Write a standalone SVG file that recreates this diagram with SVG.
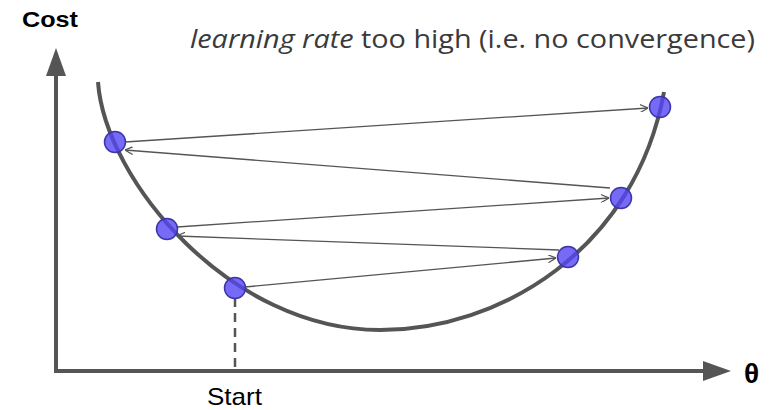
<svg xmlns="http://www.w3.org/2000/svg" width="777" height="410" viewBox="0 0 777 410">
<style>
.axis{stroke:#555;stroke-width:4;fill:none}
.curve{stroke:#555;stroke-width:4;fill:none}
.step{stroke:#555;stroke-width:1.3;fill:none;marker-end:url(#ah)}
.pt{fill:#5545f5;fill-opacity:0.8;stroke:#3b35a8;stroke-width:1.5}
.lbl{font-family:"Liberation Sans",Arial,sans-serif;fill:#000}
.title{font-family:"Open Sans","Noto Sans",sans-serif;font-size:25px;fill:#3a3a3a}
</style>
<defs>
<marker id="ah" viewBox="0 0 10 10" refX="10" refY="5" markerWidth="8" markerHeight="8" markerUnits="userSpaceOnUse" orient="auto">
<path d="M0,0 L10,5 L0,10" fill="none" stroke="#555" stroke-width="1.5"/>
</marker>
</defs>
<rect width="777" height="410" fill="#fff"/>
<g id="axes">
<line class="axis" x1="56" y1="371" x2="56" y2="72"/>
<polygon points="56,48 46,76 66,76" fill="#555"/>
<line class="axis" x1="54" y1="371" x2="706" y2="371"/>
<polygon points="731,371 703,361 703,381" fill="#555"/>
<line x1="235" y1="298" x2="235" y2="369" stroke="#555" stroke-width="2.5" stroke-dasharray="9,6"/>
</g>
<g id="cost-curve">
<path class="curve" d="M98,82 C105,180 230,330 380,330 C500,330 635,250 664,92"/>
</g>
<g id="connectors">
<line class="step" x1="245" y1="287" x2="556" y2="258"/>
<line class="step" x1="559" y1="250" x2="177" y2="236"/>
<line class="step" x1="177" y1="227" x2="609" y2="198"/>
<line class="step" x1="610" y1="188" x2="125" y2="150"/>
<line class="step" x1="125" y1="142" x2="648" y2="108"/>
</g>
<g id="p1"><circle class="pt" cx="235" cy="288" r="10.5"/></g>
<g id="p2"><circle class="pt" cx="568" cy="257" r="10.5"/></g>
<g id="p3"><circle class="pt" cx="167" cy="229" r="10.5"/></g>
<g id="p4"><circle class="pt" cx="621" cy="198" r="10.5"/></g>
<g id="p5"><circle class="pt" cx="115" cy="142" r="10.5"/></g>
<g id="p6"><circle class="pt" cx="660" cy="107" r="10.5"/></g>
<g id="labels">
<text class="lbl" x="22" y="27" font-size="22" font-weight="bold" textLength="56" lengthAdjust="spacingAndGlyphs">Cost</text>
<text class="lbl" x="207" y="405" font-size="24" textLength="55" lengthAdjust="spacingAndGlyphs">Start</text>
<text class="lbl" x="744" y="383" font-size="28" font-weight="bold">θ</text>
<text class="title" x="190" y="48" textLength="565" lengthAdjust="spacingAndGlyphs"><tspan font-style="italic">learning rate</tspan> too high (i.e. no convergence)</text>
</g>
</svg>
